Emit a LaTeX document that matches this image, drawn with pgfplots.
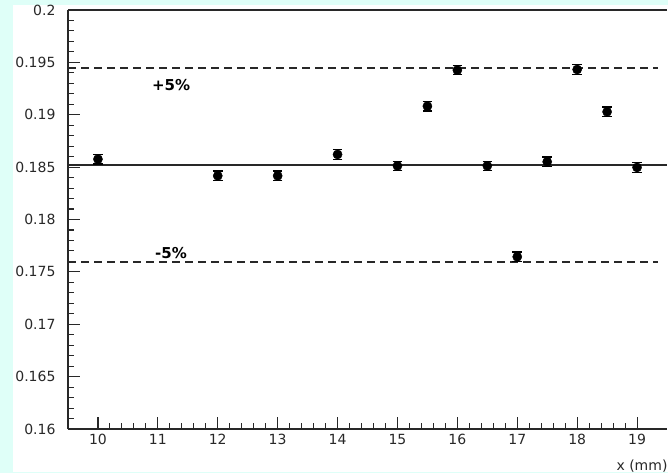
\documentclass[border=0pt]{standalone}
\usepackage{pgfplots}
\pgfplotsset{compat=1.18}
\usepackage{fontspec}
\setmainfont{DejaVu Sans}
\definecolor{bgcyan}{RGB}{223,255,248}
\definecolor{axcol}{RGB}{40,40,40}
\begin{document}
\begin{tikzpicture}[x=1pt,y=1pt]
\path[use as bounding box] (0,0) rectangle (668,473);
\fill[bgcyan] (0,0) rectangle (668,473);
\fill[white] (13,1) rectangle (668,468);
\begin{axis}[
  at={(68pt,44pt)}, anchor=south west,
  scale only axis, width=599pt, height=419pt,
  xmin=9.5, xmax=19.5, ymin=0.16, ymax=0.2,
  axis x line=box, axis y line=left,
  axis line style={-, line width=1.4pt, axcol},
  xtick={10,11,12,13,14,15,16,17,18,19}, minor x tick num=4,
  ytick={0.16,0.165,0.17,0.175,0.18,0.185,0.19,0.195,0.2},
  yticklabels={0.16,0.165,0.17,0.175,0.18,0.185,0.19,0.195,0.2},
  minor y tick num=4,
  xtick pos=left, ytick pos=left,
  tick align=inside,
  major tick length=12pt, minor tick length=6pt,
  tick style={line width=1.1pt, axcol},
  ticklabel style={font=\fontsize{14}{16}\selectfont, text=axcol},
  xticklabel style={yshift=-2pt},
  yticklabel style={xshift=-9pt},
  /pgf/number format/assume math mode=true,
  xlabel={x (mm)},
  xlabel style={at={(rel axis cs:1,0)}, anchor=east, yshift=-37pt, xshift=4pt, font=\fontsize{14}{16}\selectfont, text=axcol},
  clip=false,
]
\addplot[axcol, line width=1.3pt] coordinates {(9.5,0.18519) (19.5,0.18519)};
\addplot[axcol, line width=1.3pt, dash pattern=on 8pt off 5pt] coordinates {(9.5,0.19445) (19.35,0.19445)};
\addplot[axcol, line width=1.3pt, dash pattern=on 8pt off 5pt] coordinates {(9.5,0.17593) (19.35,0.17593)};
\node[font=\bfseries\fontsize{15}{17}\selectfont] at (axis cs:11.22,0.19282) {+5\%};
\node[font=\bfseries\fontsize{15}{17}\selectfont] at (axis cs:11.22,0.17679) {-5\%};
\addplot[only marks, mark=*, mark size=4.6pt, black,
  error bars/.cd, y dir=both, y explicit,
  error bar style={line width=1.2pt, black},
  error mark options={rotate=90, mark size=4.8pt, line width=1.3pt, black}]
  table[x=x, y=y, y error=e] {
x y e
10 0.18576 0.00045
12 0.18417 0.00045
13 0.18417 0.00045
14 0.18621 0.00045
15 0.18512 0.00045
15.5 0.19082 0.00045
16 0.19426 0.00045
16.5 0.18512 0.00045
17 0.17644 0.00045
17.5 0.18551 0.00045
18 0.19432 0.00045
18.5 0.19028 0.00045
19 0.18497 0.00045
};
\end{axis}
\end{tikzpicture}
\end{document}
